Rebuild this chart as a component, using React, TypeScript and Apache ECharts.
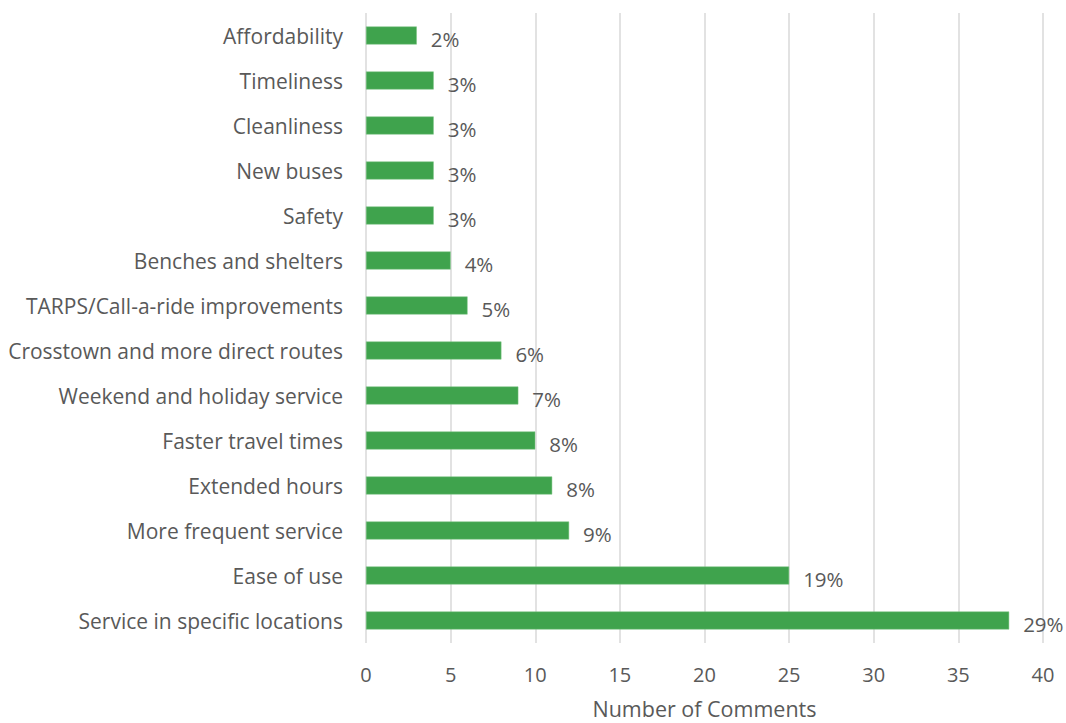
import React, { useEffect, useRef } from "react";
import * as echarts from "echarts";

const categories = [
  "Service in specific locations",
  "Ease of use",
  "More frequent service",
  "Extended hours",
  "Faster travel times",
  "Weekend and holiday service",
  "Crosstown and more direct routes",
  "TARPS/Call-a-ride improvements",
  "Benches and shelters",
  "Safety",
  "New buses",
  "Cleanliness",
  "Timeliness",
  "Affordability",
];
const comments = [38, 25, 12, 11, 10, 9, 8, 6, 5, 4, 4, 4, 4, 3];
const percentLabels = ["29%", "19%", "9%", "8%", "8%", "7%", "6%", "5%", "4%", "3%", "3%", "3%", "3%", "2%"];
const xTicks = { min: 0, max: 40, interval: 5 };

const FONT = "'Open Sans', sans-serif";
const TEXT = "#595959";

export default function App() {
  const ref = useRef<HTMLDivElement>(null);
  useEffect(() => {
    const chart = echarts.init(ref.current!, null, { renderer: "svg" });
    chart.setOption({
      animation: false,
      grid: {
        left: 366,
        right: 23,
        top: 13,
        bottom: 80,
        containLabel: false,
        outerBoundsMode: "none",
      },
      xAxis: {
        type: "value",
        min: xTicks.min,
        max: xTicks.max,
        interval: xTicks.interval,
        name: "Number of Comments",
        nameLocation: "middle",
        nameGap: 54,
        nameTextStyle: { color: TEXT, fontSize: 21.5, fontFamily: FONT },
        axisLine: { show: false },
        axisTick: { show: false },
        axisLabel: { color: TEXT, fontSize: 20, fontFamily: FONT, margin: 21 },
        splitLine: { show: true, lineStyle: { color: "#d9d9d9", width: 1.5 } },
      },
      yAxis: {
        type: "category",
        data: categories,
        axisLine: { show: false },
        axisTick: { show: false },
        axisLabel: { color: TEXT, fontSize: 21, fontFamily: FONT, margin: 23 },
      },
      series: [
        {
          type: "bar",
          data: comments,
          barWidth: 18,
          itemStyle: { color: "#3fa34d", borderColor: "#7cc483", borderWidth: 0.5 },
          label: {
            show: true,
            position: "right",
            distance: 14,
            offset: [0, 3],
            color: TEXT,
            fontSize: 20.5,
            fontFamily: FONT,
            formatter: (p: any) => percentLabels[p.dataIndex],
          },
        },
      ],
    });
    return () => chart.dispose();
  }, []);
  return (
    <div
      ref={ref}
      style={{ position: "absolute", left: 0, top: 0, width: 1066, height: 723, background: "#fff" }}
    />
  );
}
